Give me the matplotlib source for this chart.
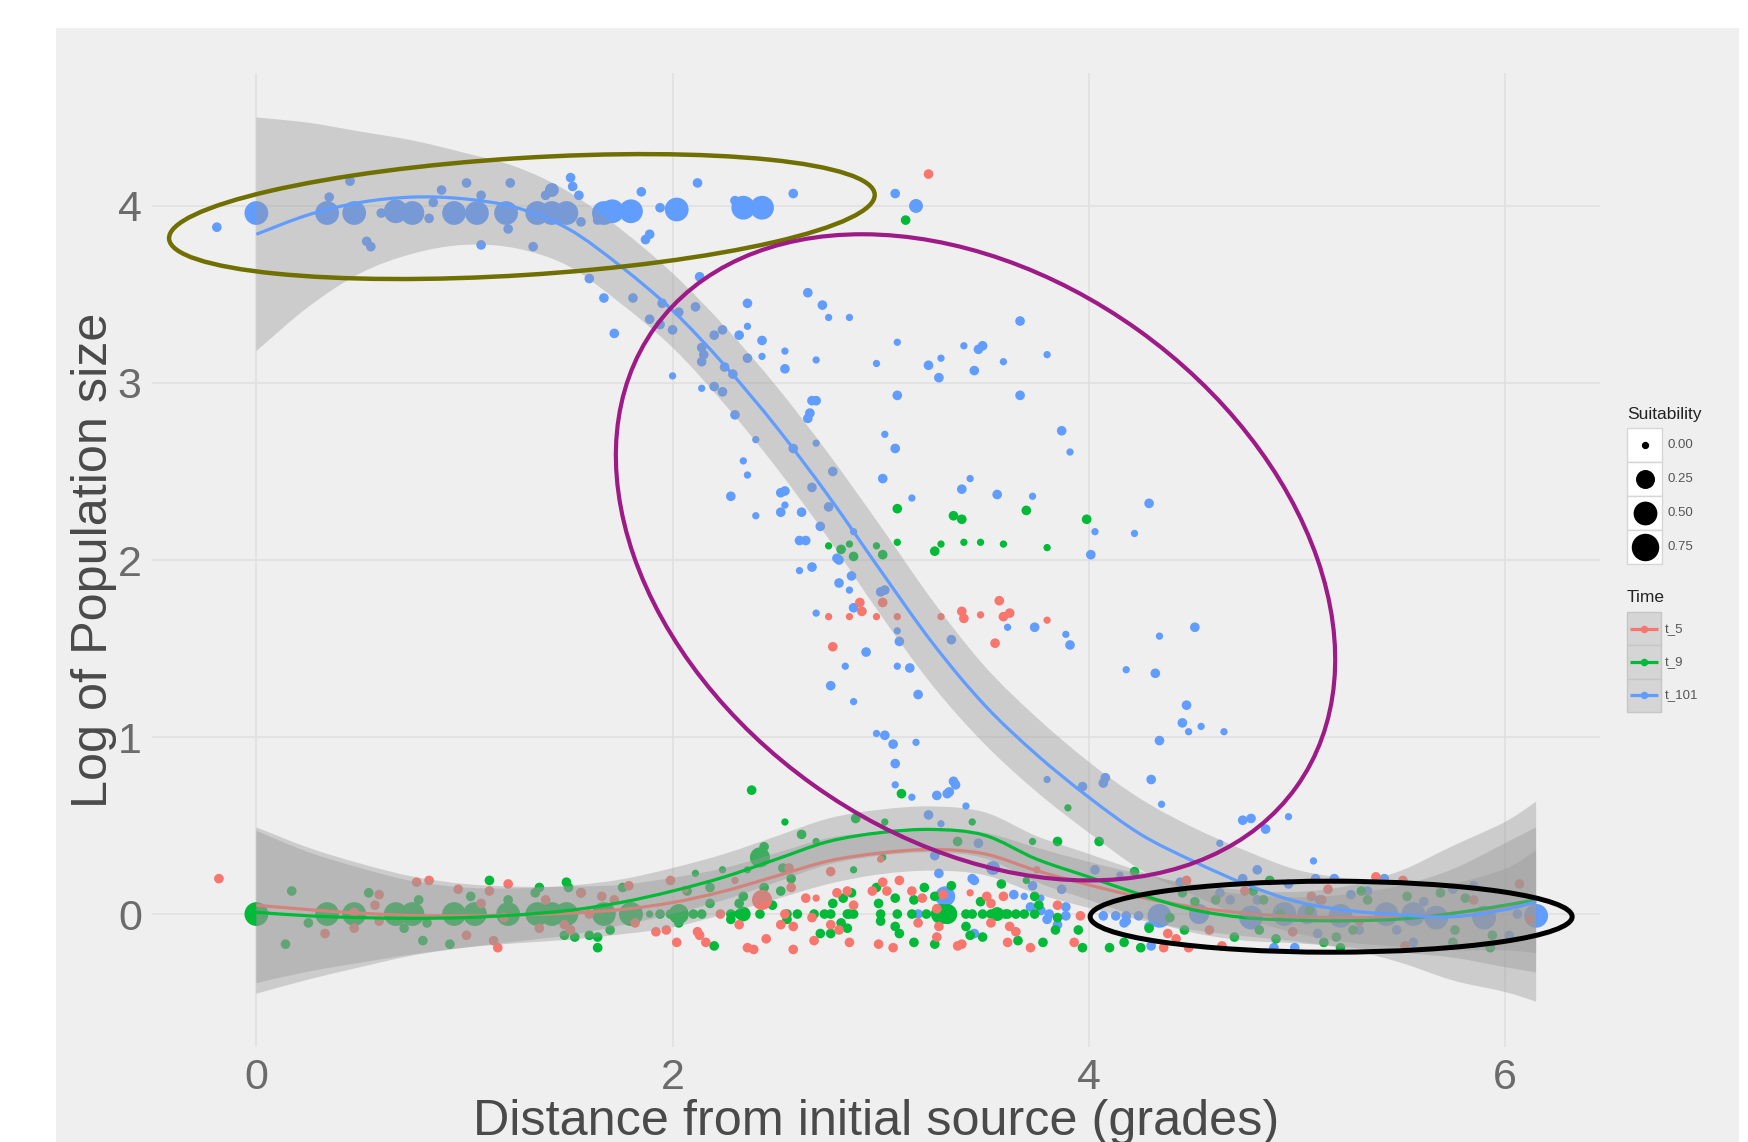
import numpy as np
import matplotlib
matplotlib.use("Agg")
import matplotlib.pyplot as plt
from matplotlib.path import Path
from matplotlib.patches import PathPatch, Ellipse, Rectangle
from matplotlib.transforms import ScaledTranslation

plt.rcParams['font.family'] = ['Liberation Sans', 'DejaVu Sans']

# ---------------------------------------------------------------------------
# Smoothed trends per time step: fit value and half-width of the 95% band
# ---------------------------------------------------------------------------
fit_x = [0.00, 0.25, 0.50, 0.75, 1.00, 1.25, 1.50, 1.75, 2.00, 2.25, 2.50, 2.75, 3.00,
         3.25, 3.50, 3.75, 4.00, 4.25, 4.50, 4.75, 5.00, 5.25, 5.50, 5.75, 6.00, 6.15]
fit_t5 = [0.05, 0.025, 0.005, -0.008, -0.01, -0.005, 0.005, 0.025, 0.065, 0.13, 0.215, 0.30, 0.345,
          0.365, 0.34, 0.245, 0.165, 0.095, 0.04, 0.005, -0.015, -0.02, -0.015, 0.005, 0.04, 0.07]
se_t5 = [0.44, 0.35, 0.28, 0.22, 0.18, 0.16, 0.15, 0.14, 0.14, 0.13, 0.13, 0.13, 0.12,
         0.12, 0.12, 0.13, 0.13, 0.13, 0.13, 0.13, 0.14, 0.18, 0.26, 0.38, 0.48, 0.565]
fit_t9 = [0.01, -0.01, -0.02, -0.024, -0.02, -0.005, 0.02, 0.065, 0.13, 0.21, 0.31, 0.41, 0.46,
          0.478, 0.445, 0.31, 0.21, 0.11, 0.025, -0.02, -0.035, -0.038, -0.028, 0.004, 0.05, 0.08]
se_t9 = [0.46, 0.36, 0.28, 0.21, 0.17, 0.15, 0.14, 0.13, 0.13, 0.13, 0.13, 0.13, 0.13,
         0.13, 0.13, 0.13, 0.13, 0.13, 0.13, 0.13, 0.13, 0.15, 0.19, 0.25, 0.35, 0.41]
fit_t101 = [3.84, 3.95, 4.02, 4.05, 4.04, 3.99, 3.87, 3.66, 3.41, 3.10, 2.75, 2.36, 1.94,
            1.53, 1.18, 0.90, 0.66, 0.45, 0.30, 0.17, 0.07, 0.02, -0.005, -0.015, 0.025, 0.07]
se_t101 = [0.66, 0.52, 0.40, 0.32, 0.26, 0.23, 0.21, 0.21, 0.21, 0.22, 0.23, 0.24, 0.25,
           0.24, 0.22, 0.21, 0.20, 0.20, 0.19, 0.19, 0.18, 0.18, 0.18, 0.19, 0.23, 0.29]

# ---------------------------------------------------------------------------
# Observations: distance, log population size, suitability
# ---------------------------------------------------------------------------
t5_x = [-0.18, 0.77, 0.83, 0.59, 0.57, 0.47, 0.59, 0.33, 0.47, 0.97,
        1.12, 1.21, 1.08, 1.01, 1.14, 1.16, 1.39, 1.36, 1.48, 1.51,
        1.56, 1.66, 1.72, 1.79, 1.82, 1.60, 1.19, 1.99, 2.06, 2.30,
        2.43, 2.56, 2.57, 2.76, 3.00, 3.75, 3.30, 1.92, 1.97, 2.02,
        2.12, 2.13, 2.16, 2.23, 2.32, 2.36, 2.39, 2.45, 2.52, 2.54,
        2.58, 2.58, 2.64, 2.69, 2.67, 2.68, 2.76, 2.79, 2.80, 2.84,
        2.85, 2.87, 2.96, 2.99, 3.01, 3.03, 3.06, 3.09, 3.15, 3.18,
        3.20, 3.27, 3.27, 3.28, 3.37, 3.39, 3.43, 3.51, 3.53, 3.53,
        3.59, 3.61, 3.62, 3.65, 3.72, 3.85, 3.93, 3.96, 4.47, 4.38,
        4.42, 4.36, 4.48, 4.58, 4.75, 4.98, 5.07, 5.12, 5.15, 5.38,
        5.51, 5.85, 6.07, 6.12, 5.52, 4.64, 5.30, 3.23, 2.90, 2.91,
        3.01, 2.75, 2.85, 2.98, 3.08, 2.77, 3.29, 3.39, 3.40, 3.48,
        3.57, 3.59, 3.62, 3.80, 3.55]
t5_y = [0.20, 0.18, 0.19, 0.11, 0.05, 0.01, -0.04, -0.11, -0.08, 0.14,
        0.13, 0.17, 0.06, -0.12, -0.15, -0.19, 0.08, -0.08, -0.06, -0.09,
        0.12, 0.10, 0.08, 0.16, -0.05, 0.00, -0.02, 0.19, 0.14, 0.19,
        0.08, 0.26, 0.15, 0.24, 0.31, 0.25, 0.11, -0.10, -0.09, -0.16,
        -0.10, -0.12, -0.16, 0.00, -0.06, -0.19, -0.20, -0.14, -0.06, 0.00,
        -0.07, -0.20, 0.09, 0.09, -0.02, -0.15, -0.06, 0.12, -0.09, 0.13,
        -0.16, 0.05, 0.13, -0.17, 0.18, 0.13, -0.19, 0.19, 0.13, -0.05,
        0.09, -0.13, 0.03, -0.07, -0.18, -0.17, 0.12, 0.10, -0.05, 0.06,
        0.10, -0.16, -0.07, -0.10, -0.19, 0.05, -0.16, -0.01, 0.19, -0.11,
        -0.14, -0.19, -0.19, -0.09, 0.13, -0.10, 0.10, 0.08, 0.14, 0.21,
        0.19, 0.08, 0.17, -0.03, -0.18, -0.18, -0.04, 4.18, 1.76, 1.71,
        1.76, 1.68, 1.68, 1.68, 1.68, 1.51, 1.68, 1.71, 1.67, 1.69,
        1.77, 1.68, 1.70, 1.66, 1.53]
t5_suit = [0.01, 0.01, 0.01, 0.01, 0.01, 0.01, 0.01, 0.01, 0.01, 0.01,
           0.01, 0.01, 0.01, 0.01, 0.01, 0.01, 0.01, 0.01, 0.01, 0.01,
           0.01, 0.01, 0.01, 0.01, 0.01, 0.01, 0.01, 0.01, 0.00, 0.00,
           0.30, 0.01, 0.01, 0.01, 0.00, 0.00, 0.01, 0.01, 0.01, 0.01,
           0.01, 0.01, 0.01, 0.01, 0.01, 0.01, 0.01, 0.01, 0.01, 0.01,
           0.01, 0.01, 0.01, 0.00, 0.01, 0.01, 0.01, 0.01, 0.01, 0.01,
           0.01, 0.01, 0.01, 0.01, 0.01, 0.01, 0.01, 0.01, 0.01, 0.01,
           0.01, 0.01, 0.01, 0.01, 0.01, 0.01, 0.00, 0.01, 0.01, 0.01,
           0.01, 0.01, 0.01, 0.01, 0.01, 0.01, 0.01, 0.01, 0.01, 0.01,
           0.01, 0.01, 0.01, 0.01, 0.01, 0.01, 0.01, 0.01, 0.01, 0.01,
           0.01, 0.01, 0.01, 0.01, 0.01, 0.01, 0.01, 0.01, 0.01, 0.01,
           0.01, 0.00, 0.00, 0.00, 0.00, 0.01, 0.00, 0.01, 0.01, 0.00,
           0.01, 0.01, 0.01, 0.00, 0.01]

t9_x = [0.00, 0.17, 0.14, 0.25, 0.34, 0.47, 0.54, 0.67, 0.75, 0.78,
        0.71, 0.80, 0.82, 0.93, 0.95, 1.03, 1.05, 1.12, 1.21, 1.21,
        1.34, 1.36, 1.35, 1.42, 1.49, 1.50, 1.49, 1.56, 1.48, 1.53,
        1.60, 1.64, 1.64, 1.67, 1.70, 1.76, 1.80, 1.89, 1.94, 1.99,
        2.03, 2.10, 2.14, 2.28, 2.32, 2.34, 2.42, 2.55, 2.60, 2.68,
        2.73, 2.76, 2.84, 2.85, 2.87, 3.00, 3.08, 3.15, 3.22, 3.27,
        3.29, 3.32, 3.41, 3.44, 3.49, 3.53, 3.56, 3.60, 3.61, 3.65,
        3.69, 3.74, 2.03, 2.20, 2.28, 2.55, 2.71, 2.76, 2.77, 2.82,
        2.81, 2.84, 2.86, 2.98, 2.99, 3.00, 3.07, 3.07, 3.09, 3.16,
        3.16, 3.21, 3.26, 3.26, 3.34, 3.41, 3.43, 3.48, 3.49, 3.66,
        3.74, 3.76, 3.78, 3.84, 3.95, 3.97, 4.10, 4.29, 3.85, 2.54,
        2.62, 2.88, 3.02, 3.44, 3.37, 3.73, 3.85, 4.05, 2.69, 2.44,
        2.42, 2.11, 2.24, 2.36, 2.53, 2.57, 2.87, 3.01, 3.58, 3.70,
        2.18, 2.07, 2.44, 2.52, 2.34, 2.18, 2.48, 2.32, 4.22, 4.39,
        4.45, 4.51, 4.61, 4.70, 4.84, 4.82, 4.90, 4.92, 5.06, 5.13,
        5.19, 5.21, 5.27, 5.31, 5.34, 5.53, 5.69, 5.76, 5.75, 5.81,
        5.93, 5.94, 4.17, 4.25, 4.46, 4.79, 4.87, 3.12, 3.08, 3.35,
        3.39, 3.70, 3.99, 2.75, 2.81, 2.85, 2.87, 2.98, 3.01, 3.08,
        3.26, 3.29, 3.40, 3.48, 3.59, 3.80, 2.38, 3.10, 3.90]
t9_y = [0.00, 0.13, -0.17, -0.05, 0.00, 0.00, 0.12, 0.00, 0.00, 0.08,
        -0.08, -0.15, -0.05, -0.17, 0.00, 0.10, 0.00, 0.19, 0.08, 0.00,
        0.12, 0.15, 0.00, 0.00, 0.18, 0.15, 0.00, 0.12, -0.12, -0.13,
        -0.12, -0.13, -0.19, 0.00, -0.09, 0.15, 0.00, 0.00, 0.00, 0.00,
        0.00, 0.00, 0.00, 0.00, 0.00, 0.00, 0.00, 0.00, 0.00, 0.00,
        0.00, 0.00, 0.00, 0.00, 0.00, 0.00, 0.00, 0.00, 0.00, 0.00,
        0.00, 0.00, 0.00, 0.00, 0.00, 0.00, 0.00, 0.00, 0.00, 0.00,
        0.00, 0.00, -0.05, -0.18, -0.03, -0.03, -0.11, -0.11, 0.06, 0.09,
        -0.05, -0.08, 0.12, 0.15, 0.06, -0.04, 0.09, -0.07, -0.11, 0.08,
        -0.16, 0.15, 0.10, -0.17, 0.16, -0.07, -0.12, 0.07, -0.13, -0.15,
        0.10, 0.05, -0.16, -0.09, -0.09, -0.19, -0.19, -0.08, -0.02, 0.52,
        0.45, 0.54, 0.52, 0.52, 0.41, 0.41, 0.41, 0.41, 0.41, 0.38,
        0.32, 0.23, 0.25, 0.25, 0.26, 0.20, 0.25, 0.32, 0.17, 0.19,
        0.15, 0.13, 0.15, 0.13, 0.10, 0.06, 0.05, 0.06, 0.24, -0.02,
        0.12, 0.07, 0.08, -0.13, 0.08, -0.09, -0.14, 0.00, 0.02, -0.16,
        -0.13, -0.19, -0.09, 0.13, 0.08, 0.10, 0.12, -0.09, -0.16, 0.09,
        -0.19, -0.12, -0.16, -0.19, -0.09, 0.13, 0.19, 3.92, 2.29, 2.25,
        2.23, 2.28, 2.23, 2.08, 2.06, 2.09, 2.02, 2.08, 2.03, 2.10,
        2.05, 2.09, 2.10, 2.10, 2.09, 2.07, 0.70, 0.68, 0.60]
t9_suit = [0.50, 0.01, 0.01, 0.01, 0.50, 0.50, 0.01, 0.50, 0.50, 0.01,
           0.01, 0.01, 0.01, 0.01, 0.50, 0.01, 0.50, 0.01, 0.01, 0.50,
           0.01, 0.01, 0.50, 0.50, 0.01, 0.01, 0.50, 0.01, 0.01, 0.01,
           0.01, 0.01, 0.01, 0.50, 0.01, 0.01, 0.50, 0.00, 0.01, 0.01,
           0.30, 0.01, 0.01, 0.01, 0.01, 0.10, 0.01, 0.01, 0.01, 0.01,
           0.01, 0.01, 0.01, 0.01, 0.01, 0.01, 0.01, 0.01, 0.01, 0.01,
           0.30, 0.30, 0.01, 0.01, 0.01, 0.01, 0.08, 0.01, 0.01, 0.01,
           0.01, 0.01, 0.01, 0.01, 0.01, 0.01, 0.01, 0.01, 0.01, 0.01,
           0.01, 0.01, 0.01, 0.01, 0.01, 0.01, 0.01, 0.01, 0.01, 0.01,
           0.01, 0.01, 0.01, 0.01, 0.01, 0.01, 0.01, 0.01, 0.01, 0.01,
           0.01, 0.01, 0.01, 0.01, 0.01, 0.01, 0.01, 0.01, 0.01, 0.00,
           0.01, 0.01, 0.00, 0.00, 0.01, 0.00, 0.01, 0.01, 0.00, 0.01,
           0.30, 0.00, 0.00, 0.00, 0.01, 0.01, 0.00, 0.00, 0.01, 0.00,
           0.01, 0.01, 0.01, 0.01, 0.01, 0.01, 0.01, 0.01, 0.01, 0.01,
           0.01, 0.01, 0.01, 0.01, 0.01, 0.01, 0.01, 0.01, 0.01, 0.01,
           0.01, 0.01, 0.01, 0.01, 0.01, 0.01, 0.01, 0.01, 0.01, 0.01,
           0.01, 0.01, 0.01, 0.01, 0.01, 0.01, 0.01, 0.01, 0.01, 0.01,
           0.01, 0.01, 0.01, 0.00, 0.01, 0.00, 0.01, 0.00, 0.01, 0.00,
           0.01, 0.00, 0.00, 0.00, 0.00, 0.00, 0.01, 0.01, 0.00]

t101_x = [-0.19, 0.00, 0.35, 0.45, 0.34, 0.47, 0.60, 0.53, 0.55, 0.67,
          0.75, 0.83, 0.85, 0.89, 0.95, 1.01, 1.06, 1.08, 1.08, 1.20,
          1.21, 1.22, 1.33, 1.35, 1.39, 1.42, 1.42, 1.49, 1.51, 1.52,
          1.55, 1.56, 1.60, 1.64, 1.67, 1.71, 1.67, 1.80, 1.81, 1.85,
          1.72, 1.87, 1.89, 1.89, 1.94, 2.00, 1.94, 2.02, 2.12, 2.30,
          2.34, 2.43, 2.58, 3.07, 3.17, 1.95, 2.03, 2.11, 2.13, 2.00,
          2.14, 2.15, 2.14, 2.20, 2.24, 2.14, 2.20, 2.24, 2.25, 2.29,
          2.32, 2.36, 2.36, 2.36, 2.43, 2.43, 2.30, 2.40, 2.34, 2.36,
          2.28, 2.52, 2.54, 2.58, 2.67, 2.69, 2.77, 2.65, 2.72, 2.75,
          2.85, 2.54, 2.54, 2.69, 2.67, 2.69, 2.66, 2.65, 2.98, 3.08,
          3.08, 3.02, 3.07, 3.01, 3.15, 3.23, 3.29, 3.28, 3.40, 3.47,
          3.49, 3.45, 3.59, 3.67, 3.80, 3.67, 3.87, 3.91, 3.43, 3.39,
          3.56, 3.73, 2.40, 2.54, 2.52, 2.62, 2.71, 2.75, 4.03, 4.01,
          2.87, 2.61, 2.64, 2.61, 2.67, 2.79, 2.80, 2.86, 2.80, 2.85,
          3.00, 3.02, 2.87, 2.69, 3.08, 3.09, 2.93, 2.83, 3.08, 3.14,
          2.76, 2.87, 3.18, 3.34, 3.61, 3.74, 3.89, 3.91, 2.98, 3.02,
          3.06, 3.17, 3.07, 3.07, 3.15, 3.27, 3.32, 3.33, 3.35, 3.36,
          3.80, 3.97, 4.08, 4.07, 4.29, 4.22, 4.51, 4.34, 4.18, 4.32,
          4.47, 4.45, 4.48, 4.54, 4.65, 4.34, 4.30, 4.35, 4.74, 4.78,
          4.96, 4.85, 4.63, 5.08, 4.34, 4.53, 4.78, 4.94, 5.05, 5.21,
          5.43, 5.56, 5.67, 5.90, 6.15, 4.63, 4.68, 4.81, 4.74, 4.96,
          5.09, 5.18, 5.26, 5.34, 5.42, 5.61, 5.85, 5.75, 4.89, 4.99,
          5.10, 5.30, 5.56, 6.02, 5.48, 5.11, 4.18, 4.29, 4.30, 4.44,
          4.81, 6.06, 3.41, 3.23, 3.29, 3.47, 3.26, 3.28, 3.31, 3.18,
          3.44, 3.45, 3.54, 3.59, 3.64, 3.69, 3.73, 3.72, 3.77, 3.80,
          3.81, 3.85, 3.89, 3.89, 3.77, 3.87, 3.45, 4.07, 4.13, 4.18,
          4.24, 4.17, 4.03, 4.15]
t101_y = [3.88, 3.96, 4.05, 4.14, 3.96, 3.96, 3.96, 3.80, 3.77, 3.97,
          3.96, 3.93, 4.02, 4.09, 3.96, 4.13, 3.96, 4.06, 3.78, 3.96,
          3.87, 4.13, 3.77, 3.96, 4.06, 4.09, 3.96, 3.96, 4.16, 4.11,
          4.06, 3.91, 3.59, 3.92, 3.96, 3.97, 3.48, 3.97, 3.48, 4.08,
          3.28, 3.81, 3.84, 3.36, 3.33, 3.30, 3.99, 3.98, 4.13, 4.03,
          3.99, 3.99, 4.07, 4.07, 4.00, 3.45, 3.40, 3.43, 3.60, 3.04,
          3.20, 3.16, 3.12, 3.27, 3.30, 2.97, 2.98, 2.95, 3.09, 3.05,
          3.27, 3.32, 3.45, 3.14, 3.24, 3.15, 2.82, 2.68, 2.56, 2.48,
          2.36, 2.38, 2.39, 2.63, 2.41, 2.66, 2.50, 3.51, 3.44, 3.37,
          3.37, 3.18, 3.08, 3.13, 2.90, 2.90, 2.83, 2.80, 3.11, 3.23,
          2.93, 2.71, 2.63, 2.46, 2.35, 3.10, 3.14, 3.03, 3.21, 3.19,
          3.21, 3.07, 3.12, 3.35, 3.16, 2.93, 2.73, 2.61, 2.46, 2.40,
          2.37, 2.36, 2.25, 2.31, 2.27, 2.27, 2.19, 2.30, 2.16, 2.03,
          2.16, 2.11, 2.11, 1.94, 1.96, 2.01, 2.00, 1.91, 1.87, 1.83,
          1.82, 1.83, 1.73, 1.70, 1.60, 1.54, 1.48, 1.40, 1.40, 1.39,
          1.29, 1.20, 1.24, 1.55, 1.62, 1.62, 1.58, 1.52, 1.02, 1.01,
          0.96, 0.97, 0.85, 0.73, 0.66, 0.67, 0.68, 0.69, 0.75, 0.73,
          0.76, 0.72, 0.77, 0.74, 2.32, 2.15, 1.62, 1.57, 1.38, 1.36,
          1.18, 1.08, 1.03, 1.06, 1.03, 0.98, 0.76, 0.62, 0.53, 0.54,
          0.55, 0.48, 0.40, 0.30, -0.01, 0.00, -0.02, 0.00, 0.00, -0.01,
          0.00, 0.00, -0.02, -0.02, -0.01, 0.12, 0.08, 0.25, 0.20, 0.17,
          0.20, 0.20, 0.11, 0.13, 0.20, 0.07, 0.16, 0.14, -0.19, -0.19,
          -0.11, -0.09, -0.16, -0.12, -0.09, 0.08, -0.04, -0.07, -0.18, 0.18,
          0.08, 0.00, 0.61, 0.56, 0.51, 0.40, 0.33, 0.23, 0.10, 0.00,
          0.20, 0.19, 0.26, 0.10, 0.11, 0.10, 0.16, 0.04, 0.02, -0.03,
          0.00, -0.06, 0.04, -0.01, 0.09, 0.14, -0.11, -0.01, -0.01, -0.01,
          -0.01, -0.05, 0.25, 0.22]
t101_suit = [0.01, 0.50, 0.01, 0.01, 0.50, 0.50, 0.01, 0.01, 0.01, 0.50,
             0.50, 0.01, 0.01, 0.01, 0.50, 0.01, 0.50, 0.01, 0.01, 0.50,
             0.01, 0.01, 0.01, 0.50, 0.01, 0.08, 0.50, 0.50, 0.01, 0.01,
             0.01, 0.01, 0.01, 0.01, 0.50, 0.50, 0.01, 0.50, 0.01, 0.01,
             0.01, 0.01, 0.01, 0.01, 0.01, 0.01, 0.01, 0.50, 0.01, 0.01,
             0.50, 0.50, 0.01, 0.01, 0.08, 0.01, 0.01, 0.01, 0.01, 0.00,
             0.01, 0.01, 0.01, 0.01, 0.01, 0.00, 0.01, 0.01, 0.01, 0.01,
             0.01, 0.00, 0.01, 0.01, 0.01, 0.00, 0.01, 0.00, 0.00, 0.00,
             0.01, 0.01, 0.01, 0.01, 0.01, 0.00, 0.01, 0.01, 0.01, 0.00,
             0.00, 0.00, 0.01, 0.00, 0.01, 0.01, 0.01, 0.01, 0.00, 0.00,
             0.01, 0.00, 0.01, 0.01, 0.00, 0.01, 0.00, 0.01, 0.00, 0.01,
             0.01, 0.01, 0.00, 0.01, 0.00, 0.01, 0.01, 0.00, 0.00, 0.01,
             0.01, 0.00, 0.00, 0.00, 0.01, 0.01, 0.01, 0.01, 0.00, 0.01,
             0.00, 0.01, 0.01, 0.00, 0.01, 0.01, 0.01, 0.01, 0.01, 0.00,
             0.01, 0.01, 0.01, 0.00, 0.00, 0.01, 0.01, 0.00, 0.00, 0.01,
             0.01, 0.00, 0.01, 0.01, 0.00, 0.01, 0.00, 0.01, 0.00, 0.01,
             0.01, 0.00, 0.01, 0.00, 0.00, 0.01, 0.01, 0.01, 0.01, 0.01,
             0.00, 0.01, 0.01, 0.01, 0.01, 0.00, 0.01, 0.00, 0.00, 0.01,
             0.01, 0.01, 0.00, 0.00, 0.00, 0.01, 0.01, 0.00, 0.01, 0.01,
             0.00, 0.01, 0.00, 0.00, 0.50, 0.30, 0.50, 0.50, 0.30, 0.50,
             0.50, 0.50, 0.50, 0.50, 0.50, 0.01, 0.01, 0.01, 0.01, 0.01,
             0.01, 0.01, 0.01, 0.01, 0.01, 0.01, 0.01, 0.01, 0.01, 0.01,
             0.01, 0.01, 0.01, 0.01, 0.01, 0.01, 0.01, 0.01, 0.01, 0.01,
             0.01, 0.01, 0.00, 0.01, 0.00, 0.01, 0.01, 0.01, 0.30, 0.01,
             0.01, 0.01, 0.08, 0.00, 0.01, 0.00, 0.01, 0.01, 0.01, 0.01,
             0.01, 0.01, 0.01, 0.01, 0.00, 0.01, 0.01, 0.01, 0.01, 0.01,
             0.01, 0.01, 0.01, 0.00]

time_labels = ['t_5', 't_9', 't_101']
time_colors = ['#F8766D', '#00BA38', '#619CFF']
size_breaks = [0.00, 0.25, 0.50, 0.75]
size_labels = ['0.00', '0.25', '0.50', '0.75']

for xs, ys, ss in [(t5_x, t5_y, t5_suit), (t9_x, t9_y, t9_suit), (t101_x, t101_y, t101_suit)]:
    assert len(xs) == len(ys) == len(ss)

# ---------------------------------------------------------------------------
W, H, DPI = 1748, 1142, 100
fig = plt.figure(figsize=(W / DPI, H / DPI), dpi=DPI, facecolor='white')
PANEL = '#efefef'

# grey plot background that also sits behind the axis labels
fig.add_artist(Rectangle((56 / W, 0), (W - 56 - 9) / W, (H - 28) / H,
                         transform=fig.transFigure, fc=PANEL, ec='none', zorder=-10))

ax = fig.add_axes([151.5 / W, (H - 1047) / H, (1600 - 151.5) / W, (1047 - 73) / H])
ax.set_facecolor(PANEL)
ax.set_xlim(-0.504, 6.457)
ax.set_ylim(-0.751, 4.751)
ax.set_xticks([0, 2, 4, 6])
ax.set_yticks([0, 1, 2, 3, 4])
ax.grid(True, color='#e0e0e0', lw=1.2)
ax.set_axisbelow(True)
for sp in ax.spines.values():
    sp.set_visible(False)
ax.tick_params(axis='both', length=0, labelsize=31, labelcolor='#6b6b6b')
ax.tick_params(axis='x', pad=8)
ax.tick_params(axis='y', pad=7)


def diameter_px(s):
    return 7.3 + 21.5 * np.sqrt(np.asarray(s, dtype=float) / 0.85)


def area_pt2(s):
    return (diameter_px(s) * 72.0 / DPI) ** 2


# points (drawn below the smoothing layers, as in a layered plot)
series = [(t101_x, t101_y, t101_suit, time_colors[2]),
          (t9_x, t9_y, t9_suit, time_colors[1]),
          (t5_x, t5_y, t5_suit, time_colors[0])]
for xs, ys, ss, col in series:
    ax.scatter(xs, ys, s=area_pt2(ss), c=col, linewidths=0, zorder=2)


def bezier_through(xs, ys, start_code=Path.MOVETO):
    pts = np.column_stack([xs, ys]).astype(float)
    n = len(pts)
    verts = [pts[0]]
    codes = [start_code]
    for i in range(n - 1):
        p0 = pts[i - 1] if i > 0 else pts[i]
        p1, p2 = pts[i], pts[i + 1]
        p3 = pts[i + 2] if i + 2 < n else pts[i + 1]
        verts += [p1 + (p2 - p0) / 6.0, p2 - (p3 - p1) / 6.0, p2]
        codes += [Path.CURVE4] * 3
    return verts, codes


fx = np.asarray(fit_x)
smooths = [(fit_t5, se_t5, time_colors[0]),
           (fit_t9, se_t9, time_colors[1]),
           (fit_t101, se_t101, time_colors[2])]
for fit, se, col in smooths:
    fit = np.asarray(fit)
    se = np.asarray(se)
    up_v, up_c = bezier_through(fx, fit + se)
    lo_v, lo_c = bezier_through(fx[::-1], (fit - se)[::-1], start_code=Path.LINETO)
    verts = up_v + lo_v + [up_v[0]]
    codes = up_c + lo_c + [Path.CLOSEPOLY]
    ax.add_patch(PathPatch(Path(verts, codes), fc='#999999', ec='none', alpha=0.4, zorder=3))
    lv, lc = bezier_through(fx, fit)
    ax.add_patch(PathPatch(Path(lv, lc), fc='none', ec=col, lw=2.3, zorder=3,
                           capstyle='butt'))


# highlight rings (size in pixels, centred on a data location)
def ring(cx, cy, w_px, h_px, angle, color, lw):
    tr = fig.dpi_scale_trans + ScaledTranslation(cx, cy, ax.transData)
    ax.add_patch(Ellipse((0, 0), w_px / DPI, h_px / DPI, angle=angle, transform=tr,
                         fill=False, ec=color, lw=lw, zorder=10, clip_on=False))


ring(1.276, 3.94, 707, 117, 3.6, '#707000', 3.2)
ring(3.456, 2.015, 789, 559, -35.6, '#9e1a87', 3.0)
ring(5.165, -0.015, 482, 71, 0.0, '#000000', 3.6)

# axis titles
fig.text(875.75 / W, 7 / H, 'Distance from initial source (grades)', ha='center',
         va='baseline', fontsize=36.3, color='#4a4a4a')
fig.text(94 / W, 1 - 560 / H, 'Log of Population size', ha='center', va='center',
         rotation=90, fontsize=36.3, color='#4a4a4a')

# legends, laid out in pixel units
lax = fig.add_axes([0, 0, 1, 1], zorder=5)
lax.set_xlim(0, W)
lax.set_ylim(H, 0)
lax.axis('off')

lax.text(1627, 414, 'Suitability', ha='left', va='center', fontsize=12.5, color='#222222')
for i, (val, lab) in enumerate(zip(size_breaks, size_labels)):
    y0 = 428 + 34 * i
    lax.add_patch(Rectangle((1627, y0), 35, 34, fc='white', ec='#d6d6d6', lw=1.0))
    lax.scatter([1644.5], [y0 + 17], s=area_pt2(val), c='black', linewidths=0)
    lax.text(1667, y0 + 17, lab, ha='left', va='center', fontsize=9.5, color='#555555')

lax.text(1627, 598, 'Time', ha='left', va='center', fontsize=12.5, color='#222222')
for j, (lab, col) in enumerate(zip(time_labels, time_colors)):
    y0 = 612 + 33.3 * j
    lax.add_patch(Rectangle((1627, y0), 34, 33.3, fc='#d5d5d5', ec='#c6c6c6', lw=1.0))
    lax.plot([1630, 1658], [y0 + 16.6, y0 + 16.6], color=col, lw=2.3, solid_capstyle='butt')
    lax.scatter([1644], [y0 + 16.6], s=(7.5 * 72 / DPI) ** 2, c=col, linewidths=0, zorder=3)
    lax.text(1665, y0 + 16.6, lab, ha='left', va='center', fontsize=9.5, color='#555555')

fig.savefig('out.png', dpi=DPI, facecolor='white')
